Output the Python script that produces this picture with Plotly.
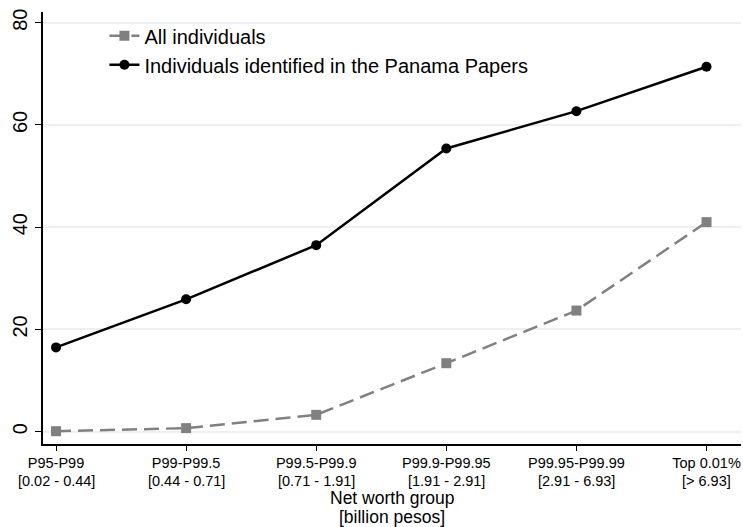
import plotly.graph_objects as go

groups = ["P95-P99", "P99-P99.5", "P99.5-P99.9", "P99.9-P99.95", "P99.95-P99.99", "Top 0.01%"]
ranges = ["[0.02 - 0.44]", "[0.44 - 0.71]", "[0.71 - 1.91]", "[1.91 - 2.91]", "[2.91 - 6.93]", "[> 6.93]"]
all_individuals = [0.1, 0.7, 3.3, 13.4, 23.7, 41.0]
panama = [16.5, 25.9, 36.5, 55.4, 62.7, 71.4]
y_ticks = [0, 20, 40, 60, 80]
x_title_lines = ["Net worth group", "[billion pesos]"]

x = list(range(len(groups)))
font = "Liberation Sans, Arial, Helvetica, sans-serif"

fig = go.Figure()
fig.add_trace(go.Scatter(x=x, y=all_individuals, name="All individuals", mode="lines+markers",
                         line=dict(color="#808080", width=2.5, dash="15px,7px"),
                         marker=dict(symbol="square", size=10, color="#808080")))
fig.add_trace(go.Scatter(x=x, y=panama, name="Individuals identified in the Panama Papers", mode="lines+markers",
                         line=dict(color="black", width=2.5),
                         marker=dict(symbol="circle", size=10, color="black")))

# second line of each x tick label (value range)
for xi, r in zip(x, ranges):
    fig.add_annotation(x=xi, y=0, xref="x", yref="paper", text=r, showarrow=False,
                       yanchor="middle", yshift=-37, font=dict(size=14.5))

# axis title
for i, t in enumerate(x_title_lines):
    fig.add_annotation(x=0.5, y=0, xref="paper", yref="paper", text=t, showarrow=False,
                       yanchor="middle", yshift=-54 - 19 * i, font=dict(size=17.5))

fig.update_layout(
    width=743, height=527,
    margin=dict(l=43, r=2, t=12, b=83),
    paper_bgcolor="white", plot_bgcolor="white",
    font=dict(family=font, color="black", size=15),
    showlegend=True,
    legend=dict(x=0.088, y=0.99, xanchor="left", yanchor="top", bgcolor="rgba(0,0,0,0)",
                font=dict(size=20), tracegroupgap=0),
    xaxis=dict(range=[-0.1, 5.265], tickvals=x, ticktext=groups, showgrid=False, automargin=False,
               showline=True, linecolor="black", linewidth=1.5, ticks="outside", ticklen=5,
               tickcolor="black", tickfont=dict(size=14.5), zeroline=False),
    yaxis=dict(range=[-2.4, 82.1], tickvals=y_ticks, tickangle=-90, showgrid=True, gridcolor="#eaf1f4",
               gridwidth=1.5, showline=True, linecolor="black", linewidth=1.5, ticks="outside", automargin=False,
               ticklen=6, tickcolor="black", tickfont=dict(size=20), zeroline=False),
)

fig.write_html("out.html", config={"displayModeBar": False},
               post_script="document.body.style.margin='0';")
